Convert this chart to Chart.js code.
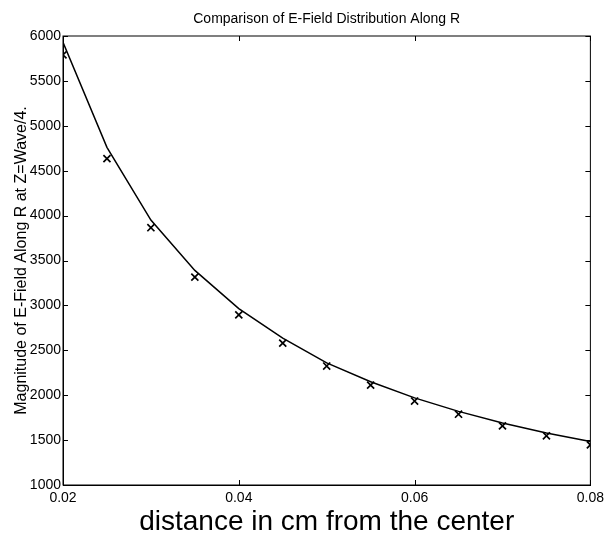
<!DOCTYPE html>
<html>
<head>
<meta charset="utf-8">
<script src="https://cdn.jsdelivr.net/npm/chart.js@4/dist/chart.umd.min.js"></script>
<style>
  html, body { margin: 0; padding: 0; background: #fff; }
  #wrap { width: 609px; height: 536px; }
</style>
</head>
<body>
<div id="wrap"><canvas id="efield"></canvas></div>
<script>
const distances = [0.02, 0.025, 0.03, 0.035, 0.04, 0.045, 0.05, 0.055, 0.06, 0.065, 0.07, 0.075, 0.08];
const curveField = [5930, 4760, 3950, 3390, 2965, 2635, 2360, 2150, 1970, 1820, 1690, 1580, 1485];
const markerField = [5790, 4635, 3865, 3315, 2895, 2580, 2325, 2112, 1935, 1788, 1658, 1548, 1447];
const xTicks = [0.02, 0.04, 0.06, 0.08];
const yTicks = [1000, 1500, 2000, 2500, 3000, 3500, 4000, 4500, 5000, 5500, 6000];

const ink = "#000";
const font = "'Liberation Sans', Arial, Helvetica, sans-serif";

// matlab style box with inward ticks on all four sides
const boxTicks = {
  id: "boxTicks",
  afterDraw(chart) {
    const { ctx, chartArea: a, scales } = chart;
    const len = 5;
    ctx.save();
    ctx.strokeStyle = ink;
    ctx.lineWidth = 1;
    ctx.strokeRect(a.left, a.top, a.right - a.left, a.bottom - a.top);
    ctx.beginPath();
    xTicks.forEach(v => {
      const px = Math.round(scales.x.getPixelForValue(v)) + 0.5;
      ctx.moveTo(px, a.bottom); ctx.lineTo(px, a.bottom - len);
      ctx.moveTo(px, a.top); ctx.lineTo(px, a.top + len);
    });
    yTicks.forEach(v => {
      const py = Math.round(scales.y.getPixelForValue(v)) + 0.5;
      ctx.moveTo(a.left, py); ctx.lineTo(a.left + len, py);
      ctx.moveTo(a.right, py); ctx.lineTo(a.right - len, py);
    });
    ctx.stroke();
    ctx.restore();
  }
};

new Chart(document.getElementById("efield").getContext("2d"), {
  type: "line",
  data: {
    datasets: [
      {
        label: "computed",
        data: distances.map((d, i) => ({ x: d, y: curveField[i] })),
        borderColor: ink,
        borderWidth: 1.5,
        pointRadius: 0,
        tension: 0,
        fill: false
      },
      {
        label: "measured",
        data: distances.map((d, i) => ({ x: d, y: markerField[i] })),
        showLine: false,
        pointStyle: "crossRot",
        pointRadius: 5,
        borderColor: ink,
        borderWidth: 1.7
      }
    ]
  },
  options: {
    responsive: true,
    maintainAspectRatio: false,
    animation: false,
    layout: { padding: { left: 0, right: 17, top: 0, bottom: 0 } },
    plugins: {
      legend: { display: false },
      tooltip: { enabled: false },
      title: {
        display: true,
        fullSize: false,
        text: "Comparison of E-Field Distribution Along R",
        color: ink,
        font: { family: font, size: 14, weight: "normal", lineHeight: 1.2 },
        padding: { top: 11, bottom: 8.2 }
      }
    },
    scales: {
      x: {
        type: "linear",
        min: 0.02,
        max: 0.08,
        afterBuildTicks: s => { s.ticks = xTicks.map(v => ({ value: v })); },
        afterFit: s => { s.height = 51; },
        grid: { display: false, drawTicks: false },
        border: { display: true, color: ink, width: 1 },
        ticks: {
          color: ink,
          padding: 5,
          maxRotation: 0,
          font: { family: font, size: 14 },
          callback: v => String(v)
        },
        title: {
          display: true,
          text: "distance in cm from the center",
          color: ink,
          font: { family: font, size: 28, lineHeight: 1 },
          padding: { top: 0, bottom: 0 }
        }
      },
      y: {
        type: "linear",
        min: 1000,
        max: 6000,
        afterBuildTicks: s => { s.ticks = yTicks.map(v => ({ value: v })); },
        afterFit: s => { s.width = 63; },
        grid: { display: false, drawTicks: false },
        border: { display: true, color: ink, width: 1 },
        ticks: {
          color: ink,
          padding: 2,
          font: { family: font, size: 14 },
          callback: v => String(v)
        },
        title: {
          display: true,
          text: "Magnitude of E-Field Along R at Z=Wave/4.",
          color: ink,
          font: { family: font, size: 16, lineHeight: 1.2 },
          padding: { top: 12, bottom: 0 }
        }
      }
    }
  },
  plugins: [boxTicks]
});
</script>
</body>
</html>
